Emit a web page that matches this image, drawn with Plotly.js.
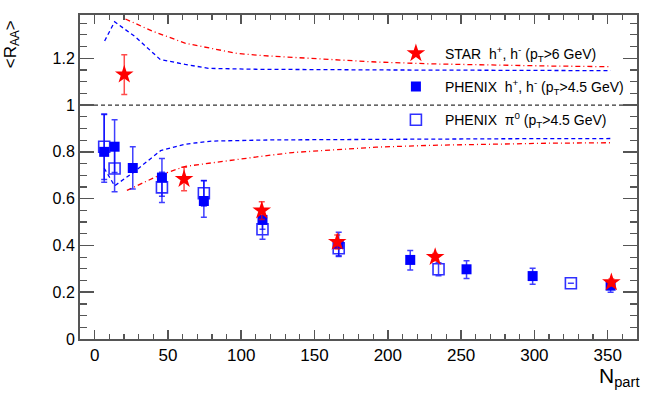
<!DOCTYPE html>
<html>
<head>
<meta charset="utf-8">
<script src="https://cdn.plot.ly/plotly-3.0.1.min.js"></script>
<style>
  body { margin: 0; background: #fff; }
  #myDiv { width: 649px; height: 393px; }
</style>
</head>
<body>
<div id="myDiv"></div>
<script>
// STAR h+,h- (pT>6 GeV)
var starX = [20.2, 61, 114, 165.5, 232.3, 352.5];
var starY = [1.13, 0.684, 0.549, 0.415, 0.35, 0.242];
var starErr = [0.085, 0.05, 0.038, 0.03, 0.015, 0.015];

// PHENIX h+,h- (pT>4.5 GeV)
var phxX = [6.5, 13.6, 26, 45.9, 74.5, 114.5, 166.5, 215.3, 253.7, 298.8, 352];
var phxY = [0.80, 0.822, 0.731, 0.69, 0.59, 0.509, 0.406, 0.338, 0.298, 0.269, 0.228];
var phxErrUp = [0.16, 0.115, 0.091, 0.082, 0.086, 0.04, 0.05, 0.04, 0.037, 0.033, 0.02];
var phxErrDn = [0.13, 0.11, 0.09, 0.08, 0.07, 0.04, 0.05, 0.043, 0.039, 0.035, 0.028];

// PHENIX pi0 (pT>4.5 GeV)
var pi0X = [6.5, 13.6, 45.9, 74.5, 114.5, 166.5, 234.6, 324.9];
var pi0Y = [0.822, 0.729, 0.648, 0.623, 0.469, 0.388, 0.298, 0.238];
var pi0Err = [0.14, 0.1, 0.065, 0.055, 0.043, 0.035, 0.028, 0];

// model bands
var redUpX = [21, 39, 62, 81, 97, 115, 135, 165, 192, 230, 270, 310, 352];
var redUpY = [1.368, 1.317, 1.264, 1.242, 1.221, 1.211, 1.204, 1.193, 1.184, 1.176, 1.171, 1.167, 1.164];
var redLoX = [22, 44, 62, 90, 115, 135, 160, 192, 230, 270, 310, 352];
var redLoY = [0.635, 0.70, 0.738, 0.762, 0.782, 0.797, 0.808, 0.82, 0.828, 0.833, 0.837, 0.839];
var blueUpX = [6.8, 13.6, 27.7, 44.7, 61.8, 77.6, 110, 150, 200, 260, 352];
var blueUpY = [1.274, 1.356, 1.292, 1.195, 1.174, 1.157, 1.153, 1.151, 1.15, 1.149, 1.147];
var blueLoX = [6.5, 13.6, 26, 45, 62, 80, 120, 200, 280, 352];
var blueLoY = [0.73, 0.655, 0.71, 0.805, 0.833, 0.846, 0.851, 0.855, 0.856, 0.857];

var refX = [-10, 370];
var refY = [1, 1];

var font = 'Liberation Sans, Arial, sans-serif';

function band(x, y, color, dash) {
  return {
    x: x, y: y, type: 'scatter', mode: 'lines', showlegend: false,
    hoverinfo: 'none',
    line: {color: color, width: 1.3, dash: dash}
  };
}

var data = [
  {
    x: refX, y: refY, type: 'scatter', mode: 'lines', showlegend: false,
    line: {color: '#333', width: 1.3, dash: '4px,3px'}
  },
  band(redUpX, redUpY, '#ff0000', '5px,3px,1px,3px'),
  band(redLoX, redLoY, '#ff0000', '5px,3px,1px,3px'),
  band(blueUpX, blueUpY, '#0000ff', '4px,3px'),
  band(blueLoX, blueLoY, '#0000ff', '4px,3px'),
  {
    x: pi0X, y: pi0Y, type: 'scatter', mode: 'markers',
    name: 'PHENIX&nbsp; &#960;<sup>0</sup> (p<sub>T</sub>&gt;4.5 GeV)',
    legendgroup: 'c', legendrank: 3,
    marker: {symbol: 'square-open', size: 11, color: '#3030ff', line: {width: 1.6}},
    error_y: {type: 'data', array: pi0Err, color: 'rgba(0,0,255,0.75)', thickness: 1.5, width: 3}
  },
  {
    x: phxX, y: phxY, type: 'scatter', mode: 'markers',
    name: 'PHENIX&nbsp; h<sup>+</sup>, h<sup>-</sup> (p<sub>T</sub>&gt;4.5 GeV)',
    legendgroup: 'b', legendrank: 2,
    marker: {symbol: 'square', size: 10, color: '#0000ff'},
    error_y: {type: 'data', symmetric: false, array: phxErrUp, arrayminus: phxErrDn,
      color: 'rgba(0,0,255,0.75)', thickness: 1.5, width: 3}
  },
  {
    x: starX, y: starY, type: 'scatter', mode: 'markers',
    name: 'STAR&nbsp; h<sup>+</sup>, h<sup>-</sup> (p<sub>T</sub>&gt;6 GeV)',
    legendgroup: 'a', legendrank: 1,
    marker: {symbol: 'star', size: 14, color: '#ff0000'},
    error_y: {type: 'data', array: starErr, color: 'rgba(255,0,0,0.7)', thickness: 1.5, width: 3}
  }
];

var layout = {
  width: 649,
  height: 393,
  margin: {l: 80, r: 12, t: 15, b: 54},
  paper_bgcolor: '#fff',
  plot_bgcolor: '#fff',
  font: {family: font, color: '#000'},
  showlegend: true,
  legend: {
    x: 0.551, y: 0.93, xanchor: 'left', yanchor: 'top',
    bgcolor: 'rgba(0,0,0,0)',
    font: {family: font, size: 14, color: '#000'},
    traceorder: 'grouped',
    tracegroupgap: 12,
    itemwidth: 48
  },
  xaxis: {
    range: [-10, 370],
    dtick: 50, tick0: 0,
    ticks: 'inside', ticklen: 9, tickwidth: 1.5, tickcolor: '#555',
    showline: true, linecolor: '#555', linewidth: 2, mirror: 'allticks',
    showgrid: false, zeroline: false,
    tickfont: {family: font, size: 17},
    minor: {dtick: 10, ticks: 'inside', ticklen: 5, tickcolor: '#555', tickwidth: 1.2, showgrid: false}
  },
  yaxis: {
    range: [0, 1.385],
    dtick: 0.2, tick0: 0,
    ticks: 'inside', ticklen: 14, tickwidth: 1.5, tickcolor: '#555',
    showline: true, linecolor: '#555', linewidth: 2, mirror: 'allticks',
    showgrid: false, zeroline: false,
    tickfont: {family: font, size: 16},
    minor: {dtick: 0.05, ticks: 'inside', ticklen: 7, tickcolor: '#555', tickwidth: 1.2, showgrid: false}
  },
  annotations: [
    {
      text: '&lt;R<sub>AA</sub>&gt;', xref: 'paper', yref: 'paper',
      x: -0.122, y: 0.99, xanchor: 'center', yanchor: 'top', textangle: -90,
      showarrow: false, font: {family: font, size: 17}
    },
    {
      text: 'N<sub>part</sub>', xref: 'paper', yref: 'paper',
      x: 1.008, y: -0.07, xanchor: 'right', yanchor: 'top',
      showarrow: false, font: {family: font, size: 21}
    }
  ]
};

Plotly.newPlot('myDiv', data, layout, {displayModeBar: false, staticPlot: true});
</script>
</body>
</html>
